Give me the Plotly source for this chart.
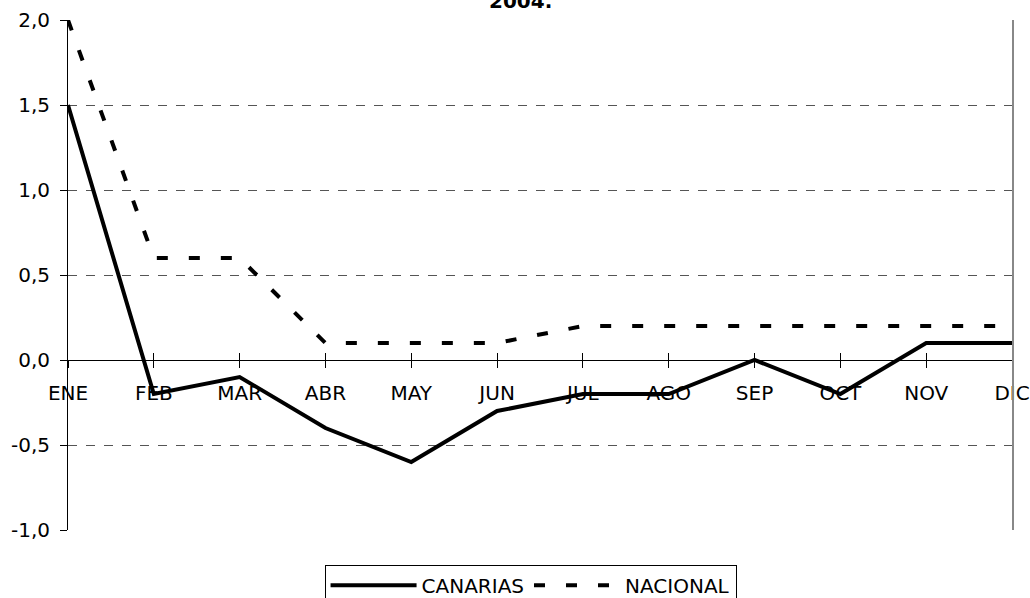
import plotly.graph_objects as go

months = ["ENE", "FEB", "MAR", "ABR", "MAY", "JUN", "JUL", "AGO", "SEP", "OCT", "NOV", "DIC"]
canarias = [1.5, -0.2, -0.1, -0.4, -0.6, -0.3, -0.2, -0.2, 0.0, -0.2, 0.1, 0.1]
nacional = [2.0, 0.6, 0.6, 0.1, 0.1, 0.1, 0.2, 0.2, 0.2, 0.2, 0.2, 0.2]
y_ticks = [-1.0, -0.5, 0.0, 0.5, 1.0, 1.5, 2.0]
y_ticktext = [f"{v:.1f}".replace(".", ",") for v in y_ticks]
title_text = "2004."

FONT = "DejaVu Sans"
FS = 20

fig = go.Figure()
fig.add_trace(go.Scatter(x=months, y=canarias, name="CANARIAS", mode="lines",
                         line=dict(color="black", width=4), cliponaxis=False))
fig.add_trace(go.Scatter(x=months, y=nacional, name="NACIONAL", mode="lines",
                         line=dict(color="black", width=4, dash="11px,21px"), cliponaxis=False))
# invisible trace for the overlay axes
fig.add_trace(go.Scatter(x=months, y=canarias, xaxis="x2", yaxis="y2", mode="lines",
                         line=dict(width=0), showlegend=False, hoverinfo="skip", opacity=0))

fig.update_layout(
    width=1030, height=598,
    margin=dict(l=68, r=18, t=20, b=68, autoexpand=False),
    paper_bgcolor="white", plot_bgcolor="white",
    font=dict(family=FONT, size=FS, color="black"),
    showlegend=True,
    legend=dict(orientation="h", x=0.49, xanchor="center", y=-0.068, yanchor="top",
                bordercolor="black", borderwidth=1, font=dict(size=FS, family=FONT),
                itemwidth=86, tracegroupgap=0),
    xaxis=dict(type="category", range=[0, 11], anchor="free", position=1/3,
               showline=True, linecolor="black", linewidth=1,
               ticks="outside", ticklen=7, tickcolor="black", tickwidth=1,
               showgrid=False, zeroline=False, layer="below traces", automargin=False,
               ticklabelstandoff=8, tickfont=dict(size=FS)),
    xaxis2=dict(type="category", range=[0, 11], overlaying="x", anchor="free", position=1/3,
                showline=False, ticks="inside", ticklen=7, tickcolor="black", tickwidth=1,
                showticklabels=False, showgrid=False, zeroline=False, side="bottom"),
    yaxis=dict(range=[-1.0, 2.0], tickvals=y_ticks, ticktext=y_ticktext,
               showline=True, linecolor="black", linewidth=1,
               ticks="outside", ticklen=7, tickcolor="black", automargin=False,
               showgrid=True, gridcolor="#555555", griddash="dash", gridwidth=1,
               zeroline=False, ticklabelstandoff=6, tickfont=dict(size=FS)),
    yaxis2=dict(range=[-1.0, 2.0], overlaying="y", side="right", showline=True,
                linecolor="#888888", linewidth=2, showticklabels=False, ticks="",
                showgrid=False, zeroline=False),
    annotations=[dict(text="<b>" + title_text + "</b>", xref="paper", yref="paper",
                      x=0.479, y=1, xanchor="center", yanchor="middle", yshift=19,
                      showarrow=False, font=dict(size=FS, family=FONT))],
)

fig.write_html("out.html", config={"displayModeBar": False},
               post_script="document.body.style.margin='0px';")
